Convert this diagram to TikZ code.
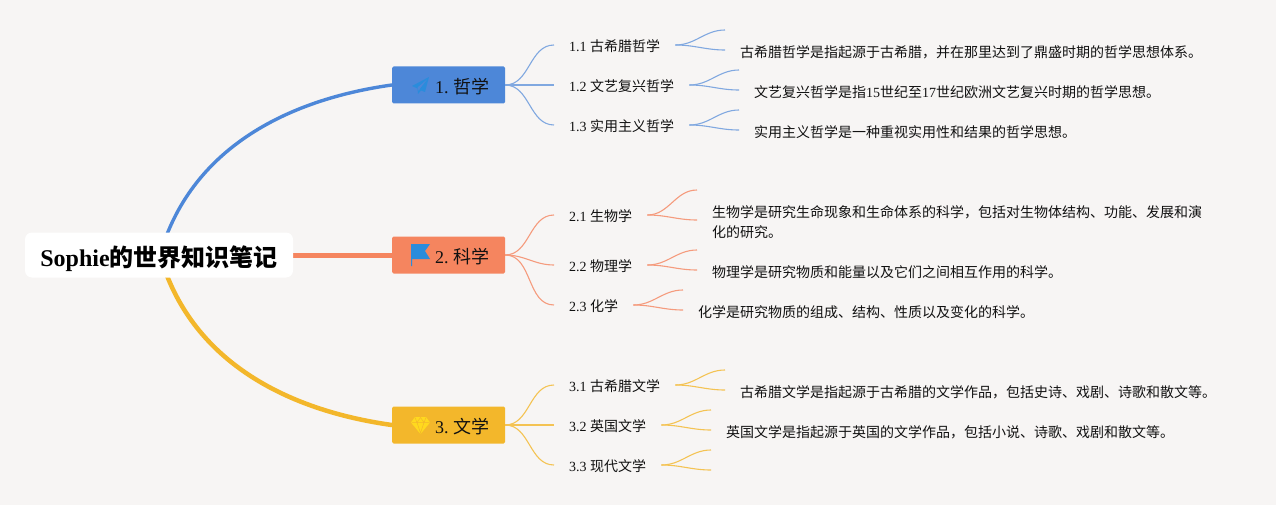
\documentclass[tikz,border=0pt]{standalone}
\usepackage{fontspec}
\setmainfont{Liberation Serif}
\newfontfamily\cjk{Noto Sans CJK SC}
\usetikzlibrary{calc}
\definecolor{bgc}{HTML}{F7F5F4}
\definecolor{bluec}{HTML}{4D87D8}
\definecolor{orangec}{HTML}{F5855F}
\definecolor{yellowc}{HTML}{F3B72B}
\definecolor{iconb}{HTML}{2A8CDC}
\definecolor{icony}{HTML}{FFD91E}
\definecolor{ink}{HTML}{111111}
\tikzset{
  x=1pt,y=-1pt,
  rootbox/.style={fill=white,rounded corners=7pt,minimum width=268pt,minimum height=45pt,inner sep=0pt,text height=23pt,text depth=0pt,text=black,font=\fontsize{24}{28}\selectfont\bfseries},
  topicbox/.style={rounded corners=1.5pt,minimum width=113pt,minimum height=37pt,inner sep=0pt},
  topiclabel/.style={anchor=west,inner sep=0pt,text=ink,font=\fontsize{18}{22}\selectfont},
  sublabel/.style={anchor=west,inner xsep=15pt,inner ysep=0pt,text height=13pt,text depth=0pt,text=ink,font=\fontsize{14}{20}\selectfont},
  detail/.style={anchor=west,inner xsep=15pt,inner ysep=0pt,text height=14.5pt,text depth=0pt,text=ink,font=\fontsize{14}{20}\selectfont},
  detailtwo/.style={anchor=west,inner xsep=15pt,inner ysep=0pt,align=left,text=ink,font=\fontsize{14}{20}\selectfont},
  main/.style={line cap=round},
  twig/.style={line width=1.1pt,out=0,in=180,looseness=1},
}
\begin{document}
\begin{tikzpicture}
\useasboundingbox (0,0) rectangle (1276,505);
\fill[bgc] (0,0) rectangle (1276,505);
% hubs
\coordinate (hub) at (160,255);
\node[topicbox,fill=bluec] (t1) at (448.5,85) {};
\node[topicbox,fill=orangec] (t2) at (448.5,255) {};
\node[topicbox,fill=yellowc] (t3) at (448.5,425) {};
% main branches
\draw[main,bluec,line width=3.4pt] (hub) .. controls (190,150) and (285,100) .. (t1.west);
\draw[main,orangec,line width=5pt] (hub) -- (t2.west);
\draw[main,yellowc,line width=4.5pt] (hub) .. controls (190,360) and (285,410) .. (t3.west);
\node[rootbox] (root) at (159,255) {Sophie{\cjk 的世界知识笔记}};
% topic labels
\node[topiclabel] (l1) at (435,86.5) {1.\hspace{5pt}{\cjk 哲学}};
\node[topiclabel] (l2) at (435,256.5) {2.\hspace{5pt}{\cjk 科学}};
\node[topiclabel] (l3) at (435,426.5) {3.\hspace{5pt}{\cjk 文学}};
% icons
\fill[iconb] (429,77) -- (412,86) -- (417.5,88.5) -- (418,94) -- (421,90.5) -- (425,92) -- cycle;
\fill[bluec] (427,79.5) -- (417.5,87.5) -- (418.8,91) -- (420,88.5) -- cycle;
\fill[iconb] (411,244) -- (430,244) -- (425,251) -- (430,259) -- (412,259) -- (412,266) -- (411,266) -- cycle;
\fill[icony] (415,417) -- (426,417) -- (430,422.5) -- (420.5,434) -- (411,422.5) -- cycle;
\draw[yellowc,line width=0.5pt] (411.5,422.5) -- (429.5,422.5) (415,417.5) -- (417,422.5) -- (420.5,433) -- (424,422.5) -- (426,417.5) (417,422.5) -- (420.5,417.5) -- (424,422.5);
% sub labels
\node[sublabel] (s11) at (554,45) {1.1 {\cjk 古希腊哲学}};
\node[sublabel] (s12) at (554,85) {1.2 {\cjk 文艺复兴哲学}};
\node[sublabel] (s13) at (554,125) {1.3 {\cjk 实用主义哲学}};
\node[sublabel] (s21) at (554,215) {2.1 {\cjk 生物学}};
\node[sublabel] (s22) at (554,265) {2.2 {\cjk 物理学}};
\node[sublabel] (s23) at (554,305) {2.3 {\cjk 化学}};
\node[sublabel] (s31) at (554,385) {3.1 {\cjk 古希腊文学}};
\node[sublabel] (s32) at (554,425) {3.2 {\cjk 英国文学}};
\node[sublabel] (s33) at (554,465) {3.3 {\cjk 现代文学}};
% details
\node[detail] (d11) at (725,50) {{\cjk 古希腊哲学是指起源于古希腊，并在那里达到了鼎盛时期的哲学思想体系。}};
\node[detail] (d12) at (739,90) {{\cjk 文艺复兴哲学是指}15{\cjk 世纪至}17{\cjk 世纪欧洲文艺复兴时期的哲学思想。}};
\node[detail] (d13) at (739,130) {{\cjk 实用主义哲学是一种重视实用性和结果的哲学思想。}};
\node[detailtwo] (d21) at (697,222) {{\cjk 生物学是研究生命现象和生命体系的科学，包括对生物体结构、功能、发展和演}\\{\cjk 化的研究。}};
\node[detail] (d22) at (697,270) {{\cjk 物理学是研究物质和能量以及它们之间相互作用的科学。}};
\node[detail] (d23) at (683,310) {{\cjk 化学是研究物质的组成、结构、性质以及变化的科学。}};
\node[detail] (d31) at (725,390) {{\cjk 古希腊文学是指起源于古希腊的文学作品，包括史诗、戏剧、诗歌和散文等。}};
\node[detail] (d32) at (711,430) {{\cjk 英国文学是指起源于英国的文学作品，包括小说、诗歌、戏剧和散文等。}};
% free ends
\coordinate (u11) at (725,30);
\coordinate (u12) at (739,70);
\coordinate (u13) at (739,110);
\coordinate (u21) at (697,190);
\coordinate (u22) at (697,250);
\coordinate (u23) at (683,290);
\coordinate (u31) at (725,370);
\coordinate (u32) at (711,410);
\coordinate (u33a) at (711,450);
\coordinate (u33b) at (711,470);
% branch connectors
\begin{scope}[bluec!70!bgc]
\foreach \a in {s11,s12,s13} \draw[twig] (t1.east) to (\a.west);
\draw[twig] (s11.east) to (u11); \draw[twig] (s11.east) to (d11.west);
\draw[twig] (s12.east) to (u12); \draw[twig] (s12.east) to (d12.west);
\draw[twig] (s13.east) to (u13); \draw[twig] (s13.east) to (d13.west);
\end{scope}
\begin{scope}[orangec!80!bgc]
\foreach \a in {s21,s22,s23} \draw[twig] (t2.east) to (\a.west);
\draw[twig] (s21.east) to (u21); \draw[twig] (s21.east) to ($(d21.west)+(0,-2)$);
\draw[twig] (s22.east) to (u22); \draw[twig] (s22.east) to (d22.west);
\draw[twig] (s23.east) to (u23); \draw[twig] (s23.east) to (d23.west);
\end{scope}
\begin{scope}[yellowc!80!bgc]
\foreach \a in {s31,s32,s33} \draw[twig] (t3.east) to (\a.west);
\draw[twig] (s31.east) to (u31); \draw[twig] (s31.east) to (d31.west);
\draw[twig] (s32.east) to (u32); \draw[twig] (s32.east) to (d32.west);
\draw[twig] (s33.east) to (u33a); \draw[twig] (s33.east) to (u33b);
\end{scope}
\end{tikzpicture}
\end{document}
